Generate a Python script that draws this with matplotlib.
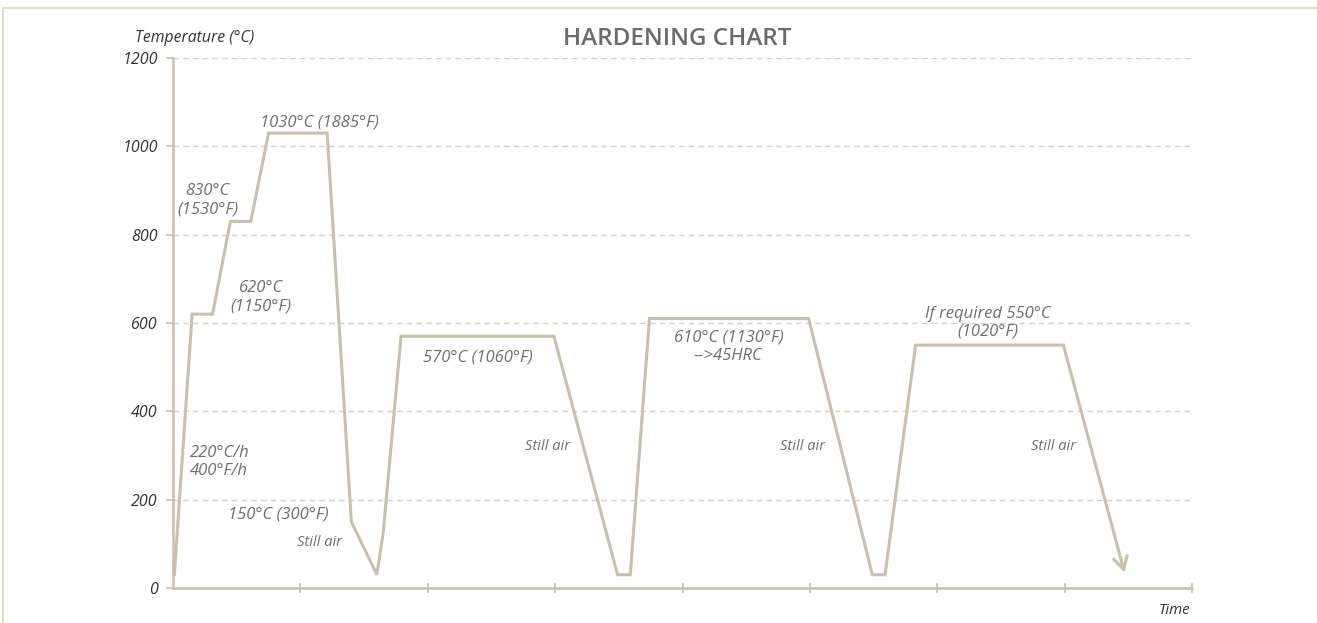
import matplotlib.pyplot as plt
from matplotlib.lines import Line2D

# heat treatment curve (time in arbitrary units, temperature in °C)
time_pts = [0.01, 0.15, 0.31, 0.45, 0.61, 0.75, 1.21, 1.40, 1.60, 1.65, 1.79,
            2.99, 3.49, 3.59, 3.74, 4.99, 5.49, 5.59, 5.83, 6.99]
temp_pts = [30, 620, 620, 830, 830, 1030, 1030, 150, 30, 125, 570,
            570, 30, 30, 610, 610, 30, 30, 550, 550]
arrow_end = (7.47, 35)

y_ticks = [0, 200, 400, 600, 800, 1000, 1200]
x_ticks = [1, 2, 3, 4, 5, 6, 7, 8]

# annotations: text, x, y, size, alignment
labels = [
    ("1030°C (1885°F)", 1.15, 1055, 12, "center"),
    ("830°C\n(1530°F)", 0.27, 878, 12, "center"),
    ("620°C\n(1150°F)", 0.69, 658, 12, "center"),
    ("220°C/h\n400°F/h", 0.13, 285, 12, "left"),
    ("150°C (300°F)", 0.83, 167, 12, "center"),
    ("Still air", 1.15, 102, 10.5, "center"),
    ("570°C (1060°F)", 2.39, 523, 12, "center"),
    ("Still air", 2.94, 321, 10.5, "center"),
    ("610°C (1130°F)\n-->45HRC", 4.36, 546, 12, "center"),
    ("Still air", 4.94, 321, 10.5, "center"),
    ("If required 550°C\n(1020°F)", 6.40, 600, 12, "center"),
    ("Still air", 6.91, 321, 10.5, "center"),
]

line_col = "#c9c0ab"
grid_col = "#d6cfbf"
text_col = "#6e6e6e"
dark_col = "#333333"

plt.rcParams["font.family"] = ["Open Sans", "DejaVu Sans"]

fig = plt.figure(figsize=(13.17, 6.23), dpi=100)
ax = fig.add_axes([0.1314, 0.0562, 0.9051 - 0.1314, 0.9069 - 0.0562])

# outer frame (top and left only, rest cut off)
fig.add_artist(Line2D([3 / 1317, 1], [1 - 8 / 623, 1 - 8 / 623], color="#e3dcca", lw=1.5,
                      transform=fig.transFigure))
fig.add_artist(Line2D([3 / 1317, 3 / 1317], [0, 1 - 8 / 623], color="#e3dcca", lw=1.5,
                      transform=fig.transFigure))

ax.plot(time_pts, temp_pts, color=line_col, lw=2.2, solid_joinstyle="miter", zorder=3)
ax.annotate("", xy=arrow_end, xytext=(time_pts[-1], temp_pts[-1]),
            arrowprops=dict(arrowstyle="->,head_length=0.9,head_width=0.5",
                            color=line_col, lw=2.2, shrinkA=0, shrinkB=0), zorder=3)

for txt, x, y, size, ha in labels:
    ax.text(x, y, txt, fontsize=size, style="italic", color=text_col,
            ha=ha, va="center", linespacing=1.15)

ax.set_xlim(0, 8)
ax.set_ylim(0, 1200)
ax.set_yticks(y_ticks)
ax.set_yticklabels([str(v) for v in y_ticks], fontsize=11.5, style="italic", color=dark_col)
ax.set_xticks(x_ticks)
ax.set_xticklabels([])

for v in y_ticks[1:]:
    ax.axhline(v, color=grid_col, lw=1, ls=(0, (4, 3)), zorder=1)

for s in ["top", "right"]:
    ax.spines[s].set_visible(False)
for s in ["left", "bottom"]:
    ax.spines[s].set_color(line_col)
    ax.spines[s].set_linewidth(1.8)

ax.tick_params(axis="y", length=5, width=1.2, color=line_col, pad=6)
ax.tick_params(axis="x", direction="inout", length=7.5, width=1.2, color=line_col)

fig.text(1190 / 1317, 1 - 611 / 623, "Time", fontsize=10.7,
         style="italic", color=dark_col, ha="right", va="center")
fig.text(195 / 1317, 1 - 38 / 623, "Temperature (°C)", fontsize=11.3, style="italic",
         color=dark_col, ha="center", va="center")
fig.text(677 / 1317, 1 - 39 / 623, "HARDENING CHART", fontsize=17.5, fontweight="semibold",
         color="#6b6b6b", ha="center", va="center")

fig.savefig("out.png", dpi=100)
